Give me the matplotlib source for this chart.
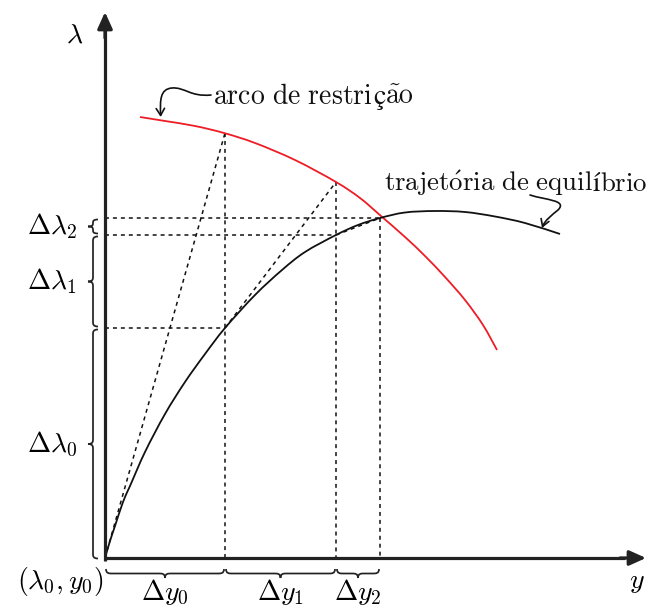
import matplotlib
matplotlib.use("Agg")
import matplotlib.pyplot as plt
from matplotlib.path import Path
from matplotlib.patches import PathPatch, FancyArrowPatch
from matplotlib.offsetbox import TextArea, HPacker, AnnotationBbox
import numpy as np

plt.rcParams['mathtext.fontset'] = 'cm'
plt.rcParams['font.family'] = ['cmr10', 'STIXGeneral', 'DejaVu Serif']

# ---- data (u = y-axis quantity "y", v = λ), in diagram units ----
arc_u = [35, 60, 90, 119, 150, 190, 231, 255, 276, 300, 320, 340, 360, 378, 392]
arc_v = [441, 437, 432, 425, 415, 398, 376, 360, 342, 321, 302, 281, 258, 233, 208]

path_u = [0, 5, 10, 18, 25, 40, 60, 80, 100, 120, 150, 177, 200, 231, 253, 275, 300,
          330, 360, 390, 420, 455]
path_v = [0, 17, 32, 56, 72, 106, 144, 176, 204, 230, 263, 288, 306, 323, 333, 340,
          345.5, 347, 346, 341.5, 335, 324]

# iteration points: equilibrium points and predictor (arc) points
eq_u = [0, 120, 231, 275]
eq_v = [0, 230, 323, 340]
pred_u = [120, 231]
pred_v = [425, 376]

lam_labels = [r'$\Delta\lambda_0$', r'$\Delta\lambda_1$', r'$\Delta\lambda_2$']
y_labels = [r'$\Delta y_0$', r'$\Delta y_1$', r'$\Delta y_2$']
# annotation texts, split so that ç / í come from a font that has them
arc_label = [r'$\mathrm{arco\ de\ restri}$', 'ç', r'$\mathrm{\tilde{a}o}$']
path_label = [r'$\mathrm{trajet\acute{o}ria\ de\ equil}$', 'í', r'$\mathrm{brio}$']

fig = plt.figure(figsize=(6.49, 6.13), dpi=100)
ax = fig.add_axes([0, 0, 1, 1])
ax.set_xlim(-105, 544)
ax.set_ylim(-55, 558)
ax.axis('off')


def smooth_path(us, vs):
    """Catmull-Rom through the given points, drawn as cubic Bezier segments."""
    p = list(zip(us, vs))
    verts = [p[0]]
    codes = [Path.MOVETO]
    for i in range(len(p) - 1):
        p0 = p[i - 1] if i > 0 else p[i]
        p1, p2 = p[i], p[i + 1]
        p3 = p[i + 2] if i + 2 < len(p) else p[i + 1]
        c1 = (p1[0] + (p2[0] - p0[0]) / 6.0, p1[1] + (p2[1] - p0[1]) / 6.0)
        c2 = (p2[0] - (p3[0] - p1[0]) / 6.0, p2[1] - (p3[1] - p1[1]) / 6.0)
        verts += [c1, c2, p2]
        codes += [Path.CURVE4] * 3
    return Path(verts, codes)


# axes with arrows
axc = '#222222'
ax.plot([0, 0], [-3, 530], color=axc, lw=2.3, solid_capstyle='butt', zorder=3)
ax.plot([-1, 520], [0, 0], color=axc, lw=2.3, solid_capstyle='butt', zorder=3)
ax.annotate('', xy=(0, 546), xytext=(0, 520),
            arrowprops=dict(arrowstyle='-|>,head_length=1.0,head_width=0.45',
                            color=axc, lw=2.3, shrinkA=0, shrinkB=0))
ax.annotate('', xy=(541, 0), xytext=(515, 0),
            arrowprops=dict(arrowstyle='-|>,head_length=1.0,head_width=0.45',
                            color=axc, lw=2.3, shrinkA=0, shrinkB=0))

# curves
ax.add_patch(PathPatch(smooth_path(arc_u, arc_v), fill=False, edgecolor='#ee1c25',
                       lw=1.3, zorder=2))
ax.add_patch(PathPatch(smooth_path(path_u, path_v), fill=False, edgecolor='#111111',
                       lw=1.3, zorder=2))

dot = dict(color='#111111', lw=1.1, linestyle=(0, (2.6, 2.6)), zorder=1)
# predictor lines
ax.plot([eq_u[0], pred_u[0]], [eq_v[0], pred_v[0]], **dot)
ax.plot([eq_u[1], pred_u[1]], [eq_v[1], pred_v[1]], **dot)
ax.plot([eq_u[2], eq_u[3]], [eq_v[2], eq_v[3]], **dot)
# verticals
ax.plot([pred_u[0], pred_u[0]], [pred_v[0], 0], **dot)
ax.plot([pred_u[1], pred_u[1]], [pred_v[1], 0], **dot)
ax.plot([eq_u[3], eq_u[3]], [eq_v[3], 0], **dot)
# horizontals
ax.plot([0, eq_u[1]], [eq_v[1], eq_v[1]], **dot)
ax.plot([0, eq_u[2]], [eq_v[2], eq_v[2]], **dot)
ax.plot([0, eq_u[3]], [eq_v[3], eq_v[3]], **dot)


def brace(a, b, c, d, vertical=False, q=6.0):
    m = 0.5 * (a + b)
    q = min(q, (b - a) / 4.0)
    h = 0.5 * d
    pts = [(a, 0), (a, h), (a + 0.5 * q, h), (a + q, h), (m - q, h),
           (m - 0.5 * q, h), (m, h), (m, d),
           (m, h), (m + 0.5 * q, h), (m + q, h), (b - q, h),
           (b - 0.5 * q, h), (b, h), (b, 0)]
    codes = [Path.MOVETO, Path.CURVE4, Path.CURVE4, Path.CURVE4, Path.LINETO,
             Path.CURVE4, Path.CURVE4, Path.CURVE4,
             Path.CURVE4, Path.CURVE4, Path.CURVE4, Path.LINETO,
             Path.CURVE4, Path.CURVE4, Path.CURVE4]
    if vertical:
        verts = [(c + t, s) for s, t in pts]
    else:
        verts = [(s, c + t) for s, t in pts]
    ax.add_patch(PathPatch(Path(verts, codes), fill=False, lw=1.25,
                           edgecolor='#222222', zorder=3))


# λ braces (left of axis)
lam_ends = [-2] + eq_v[1:]
for i in range(3):
    lo, hi = lam_ends[i], lam_ends[i + 1]
    brace(lo + 1.5, hi - 1.5, -7, -10, vertical=True, q=5)
    ax.text(-53, 0.5 * (lo + hi), lam_labels[i], fontsize=20,
            ha='center', va='center')

# y braces (below axis)
y_ends = [0] + [pred_u[0], pred_u[1], eq_u[3]]
for i in range(3):
    lo, hi = y_ends[i], y_ends[i + 1]
    brace(lo + 1, hi - 1, -11, -9, q=6)
    ax.text(0.5 * (lo + hi), -34, y_labels[i], fontsize=20,
            ha='center', va='center')

ax.text(-30, 523, r'$\lambda$', fontsize=20, ha='center', va='center')
ax.text(532, -24, r'$y$', fontsize=20, ha='center', va='center')
ax.text(-45, -24, r'$(\lambda_0, y_0)$', fontsize=20, ha='center', va='center')


def packed_label(parts, xy, size):
    areas = []
    for k, s in enumerate(parts):
        fam = 'STIXGeneral' if k == 1 else 'cmr10'
        areas.append(TextArea(s, textprops=dict(fontsize=size, family=fam,
                                                color='#111111')))
    box = HPacker(children=areas, align='baseline', pad=0, sep=0)
    ab = AnnotationBbox(box, xy, xycoords='data', box_alignment=(0, 0.5),
                        frameon=False, pad=0)
    ax.add_artist(ab)


packed_label(arc_label, (108, 461), 20)
packed_label(path_label, (279, 375), 19.3)

# curly annotation arrows
p1 = Path([(106, 463), (85, 461), (80, 471), (67, 470),
           (55, 469), (55, 458), (55.7, 441)],
          [Path.MOVETO, Path.CURVE4, Path.CURVE4, Path.CURVE4,
           Path.CURVE4, Path.CURVE4, Path.CURVE4])
ax.add_patch(FancyArrowPatch(path=p1, arrowstyle='->,head_length=5,head_width=3',
                             lw=1.2, color='#111111', zorder=4))
p2 = Path([(425, 363), (440, 358), (463, 358), (453, 348),
           (447, 343), (440, 338), (437, 330)],
          [Path.MOVETO, Path.CURVE4, Path.CURVE4, Path.CURVE4,
           Path.CURVE4, Path.CURVE4, Path.CURVE4])
ax.add_patch(FancyArrowPatch(path=p2, arrowstyle='->,head_length=5,head_width=3',
                             lw=1.2, color='#111111', zorder=4))

fig.savefig('out.png', dpi=100)
